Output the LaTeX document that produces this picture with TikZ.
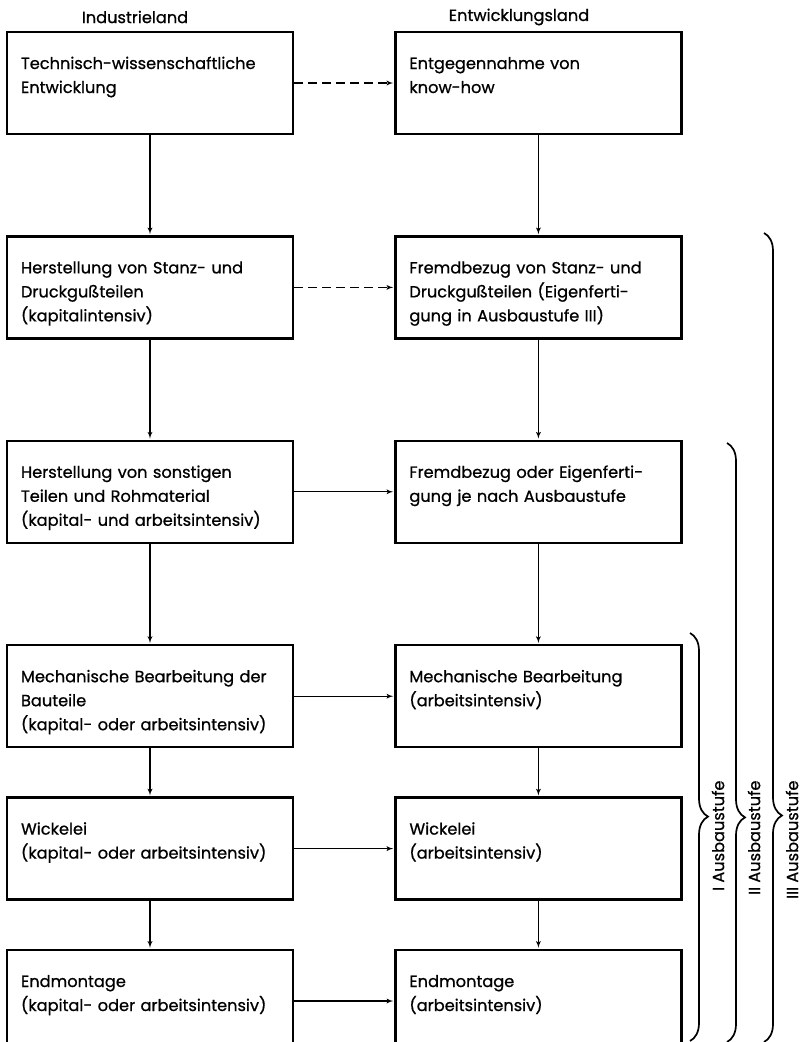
\documentclass[tikz,border=0pt]{standalone}
\usepackage{fontspec}
\setmainfont{Poppins}[FakeBold=0.8]
\usepackage{tikz}
\usetikzlibrary{arrows,positioning,decorations.pathreplacing}

\begin{document}
\begin{tikzpicture}[x=1pt, y=-1pt, node distance=100pt, auto]
    \tikzset{
      rectnode/.style={rectangle,draw=black,line width=2.4pt,inner xsep=14pt,inner ysep=12pt,minimum width=286pt,minimum height=102pt,text width=258pt,text height=25pt,text depth=53pt,align=left,font=\fontsize{16.2}{24}\selectfont},
      heading/.style={font=\fontsize{16.2}{24}\selectfont},
      stufe/.style={font=\fontsize{16.2}{24}\selectfont,rotate=90,anchor=east},
      arrow/.style={->,>=latex',shorten >=1pt,line width=1.3pt},
      dasharrow/.style={arrow,dash pattern=on 9pt off 5pt},
      bracket/.style={decorate,decoration={brace,amplitude=18pt},line width=1.7pt}
    }
    \useasboundingbox (0,0) rectangle (809,1042);

    \node[heading](industrie) at (135,17){Industrieland};
    \node[heading](entwland) at (519,17){Entwicklungsland};

    \node[rectnode](entwicklung) at (150,83){Technisch-wissenschaftliche\\Entwicklung};
    \node[rectnode,right=of entwicklung](knowhow){Entgegennahme von\\know-how};
    \node[rectnode,below=of entwicklung](stanzind){Herstellung von Stanz- und\\Druckgußteilen\\(kapitalintensiv)};
    \node[rectnode,below=of knowhow](stanzent){Fremdbezug von Stanz- und\\Druckgußteilen (Eigenferti-\\gung in Ausbaustufe III)};
    \node[rectnode,below=of stanzind](teileind){Herstellung von sonstigen\\Teilen und Rohmaterial\\(kapital- und arbeitsintensiv)};
    \node[rectnode,below=of stanzent](teileent){Fremdbezug oder Eigenferti-\\gung je nach Ausbaustufe};
    \node[rectnode,below=of teileind](mechind){Mechanische Bearbeitung der\\Bauteile\\(kapital- oder arbeitsintensiv)};
    \node[rectnode,below=of teileent](mechent){Mechanische Bearbeitung\\(arbeitsintensiv)};
    \node[rectnode,below=48pt of mechind](wickind){Wickelei\\(kapital- oder arbeitsintensiv)};
    \node[rectnode,below=48pt of mechent](wickent){Wickelei\\(arbeitsintensiv)};
    \node[rectnode,below=48pt of wickind](montind){Endmontage\\(kapital- oder arbeitsintensiv)};
    \node[rectnode,below=48pt of wickent](montent){Endmontage\\(arbeitsintensiv)};

    \draw[dasharrow](entwicklung) -- (knowhow);
    \draw[dasharrow](stanzind) -- (stanzent);
    \draw[arrow](teileind) -- (teileent);
    \draw[arrow](mechind) -- (mechent);
    \draw[arrow](wickind) -- (wickent);
    \draw[arrow](montind) -- (montent);

    \draw[arrow](entwicklung) -- (stanzind);
    \draw[arrow](stanzind) -- (teileind);
    \draw[arrow](teileind) -- (mechind);
    \draw[arrow](mechind) -- (wickind);
    \draw[arrow](wickind) -- (montind);
    \draw[arrow](knowhow) -- (stanzent);
    \draw[arrow](stanzent) -- (teileent);
    \draw[arrow](teileent) -- (mechent);
    \draw[arrow](mechent) -- (wickent);
    \draw[arrow](wickent) -- (montent);

    % Ausbaustufen
    \draw[bracket,decoration={aspect=0.45}] (690,633) -- (690,1041);
    \draw[bracket,decoration={aspect=0.625}] (727,443) -- (727,1042);
    \draw[bracket,decoration={aspect=0.72}] (764,233) -- (764,1042);
    \node[stufe](stufeeins) at (718,777){I Ausbaustufe};
    \node[stufe](stufezwei) at (754,777){II Ausbaustufe};
    \node[stufe](stufedrei) at (792,777){III Ausbaustufe};
  \end{tikzpicture}
\end{document}
